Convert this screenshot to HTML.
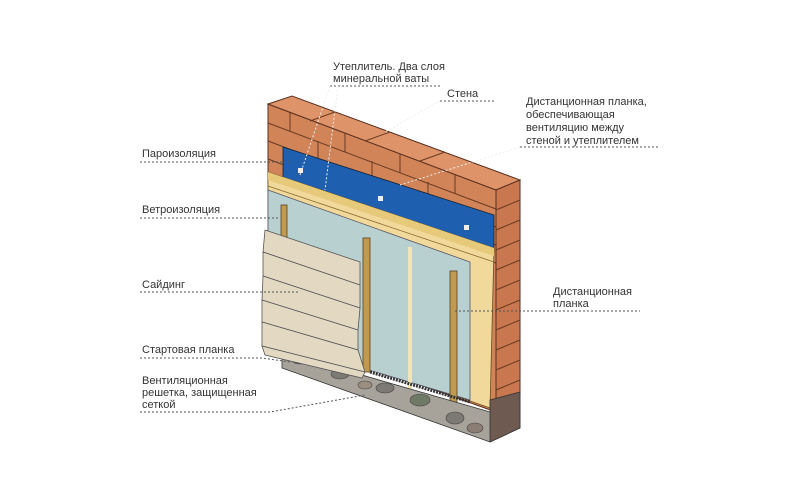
<!DOCTYPE html>
<html><head><meta charset="utf-8"><style>
html,body{margin:0;padding:0;background:#fff;}
svg{display:block;}
text{font-family:"Liberation Sans",sans-serif;font-size:11px;fill:#333;}
</style></head><body>
<svg width="800" height="500" viewBox="0 0 800 500" xmlns="http://www.w3.org/2000/svg">
<!-- brick wall front face -->
<polygon points="268,104 496,190 496,412 268,330" fill="#d08458" stroke="#5a3020" stroke-width="1"/>
<g stroke="#6a3a22" stroke-width="1" fill="none">
<line x1="268" y1="123" x2="496" y2="209"/><line x1="268" y1="141" x2="496" y2="227"/>
<line x1="268" y1="159" x2="496" y2="245"/><line x1="268" y1="177" x2="496" y2="263"/>
<line x1="290" y1="112" x2="290" y2="131"/><line x1="345" y1="133" x2="345" y2="152"/><line x1="400" y1="154" x2="400" y2="173"/><line x1="455" y1="175" x2="455" y2="194"/>
<line x1="318" y1="141" x2="318" y2="160"/><line x1="372" y1="161" x2="372" y2="180"/><line x1="428" y1="182" x2="428" y2="201"/>
</g>
<!-- brick top face -->
<polygon points="268,104 292,96 520,180 496,190" fill="#de9468" stroke="#5a3020" stroke-width="1"/>
<g stroke="#6a3a22" stroke-width="1"><line x1="335" y1="112" x2="310" y2="121"/><line x1="390" y1="132" x2="365" y2="141"/><line x1="445" y1="152" x2="420" y2="161"/></g>
<!-- right end face -->
<polygon points="496,190 520,180 520,398 496,412" fill="#c8774e" stroke="#5a3020" stroke-width="1"/>
<g stroke="#6a3a22" stroke-width="1">
<line x1="496" y1="210" x2="520" y2="200"/><line x1="496" y1="230" x2="520" y2="220"/><line x1="496" y1="250" x2="520" y2="240"/><line x1="496" y1="270" x2="520" y2="260"/><line x1="496" y1="290" x2="520" y2="280"/><line x1="496" y1="310" x2="520" y2="300"/><line x1="496" y1="330" x2="520" y2="320"/><line x1="496" y1="350" x2="520" y2="340"/><line x1="496" y1="370" x2="520" y2="360"/><line x1="496" y1="390" x2="520" y2="380"/>
</g>
<!-- blue vapour barrier -->
<polygon points="283,147 494,215 494,252 283,180" fill="#1f5fb0" stroke="#123" stroke-width="0.8"/>
<rect x="298" y="168" width="5" height="5" fill="#eee"/><rect x="378" y="196" width="5" height="5" fill="#eee"/><rect x="464" y="225" width="5" height="5" fill="#eee"/>
<!-- insulation -->
<polygon points="268,172 494,248 490,408 268,330" fill="#f0d99a" stroke="#6a5020" stroke-width="0.8"/>
<polygon points="268,172 494,248 494,256 268,180" fill="#e7c97a"/>
<line x1="268" y1="186" x2="494" y2="262" stroke="#8a6a30" stroke-width="0.8"/>
<!-- wind barrier -->
<polygon points="268,190 470,262 470,400 268,340" fill="#b9d0d0" stroke="#556" stroke-width="0.8"/>
<line x1="410" y1="247" x2="410" y2="390" stroke="#f2e4b8" stroke-width="4"/>
<!-- posts -->
<rect x="281" y="205" width="6" height="40" fill="#c09a50" stroke="#5a4020" stroke-width="0.8"/>
<rect x="363" y="238" width="7" height="134" fill="#c09a50" stroke="#5a4020" stroke-width="0.8"/>
<rect x="450" y="271" width="7" height="140" fill="#c09a50" stroke="#5a4020" stroke-width="0.8"/>
<!-- ground / stones -->
<polygon points="282,352 490,412 520,400 520,428 490,442 282,368" fill="#a7a29a" stroke="#333" stroke-width="0.8"/>
<g fill="#7d7a74" stroke="#444" stroke-width="0.6">
<ellipse cx="300" cy="360" rx="8" ry="4"/><ellipse cx="340" cy="374" rx="9" ry="5"/><ellipse cx="385" cy="388" rx="9" ry="5"/><ellipse cx="420" cy="400" rx="10" ry="6" fill="#6f7a66"/><ellipse cx="455" cy="418" rx="9" ry="6"/><ellipse cx="365" cy="385" rx="7" ry="4" fill="#9a8e80"/><ellipse cx="475" cy="428" rx="8" ry="5" fill="#8a7e74"/>
</g>
<polygon points="490,400 520,392 520,428 490,442" fill="#6e5a50" stroke="#333" stroke-width="0.8"/>
<line x1="370" y1="372" x2="470" y2="402" stroke="#333" stroke-width="3" stroke-dasharray="2,1"/>
<!-- siding -->
<g stroke="#555" stroke-width="0.8" fill="#e3d9c3">
<polygon points="265,230 360,262 360,285 263,252"/>
<polygon points="263,252 360,285 360,308 263,276"/>
<polygon points="263,276 360,308 358,330 262,300"/>
<polygon points="262,300 358,330 358,350 262,322"/>
<polygon points="262,322 358,350 365,372 262,346"/>
<polygon points="262,346 365,372 362,378 265,355"/>
</g>
<!-- labels -->
<g stroke="#555" stroke-width="1" stroke-dasharray="2,2" fill="none">
<polyline points="330,86 440,86"/>
<polyline points="440,101 495,101"/><polyline points="440,101 385,132" stroke="#eee"/>
<polyline points="520,147 660,147"/><polyline points="520,147 400,185" stroke="#eee"/>
<polyline points="140,162 290,162"/>
<polyline points="140,218 280,218"/>
<polyline points="140,292 300,292"/>
<polyline points="140,358 262,358 290,362"/>
<polyline points="140,412 270,412 365,395"/>
<polyline points="455,311 640,311"/>
</g>
<g stroke="#eee" stroke-width="1" stroke-dasharray="2,2"><line x1="330" y1="86" x2="300" y2="175"/><line x1="338" y1="86" x2="325" y2="190"/></g>
<text x="333" y="70">Утеплитель. Два слоя</text>
<text x="333" y="82">минеральной ваты</text>
<text x="447" y="97">Стена</text>
<text x="526" y="105">Дистанционная планка,</text>
<text x="526" y="118">обеспечивающая</text>
<text x="526" y="131">вентиляцию между</text>
<text x="526" y="144">стеной и утеплителем</text>
<text x="142" y="157">Пароизоляция</text>
<text x="142" y="213">Ветроизоляция</text>
<text x="142" y="288">Сайдинг</text>
<text x="142" y="353">Стартовая планка</text>
<text x="142" y="384">Вентиляционная</text>
<text x="142" y="396">решетка, защищенная</text>
<text x="142" y="408">сеткой</text>
<text x="553" y="295">Дистанционная</text>
<text x="553" y="307">планка</text>
</svg>
</body></html>
